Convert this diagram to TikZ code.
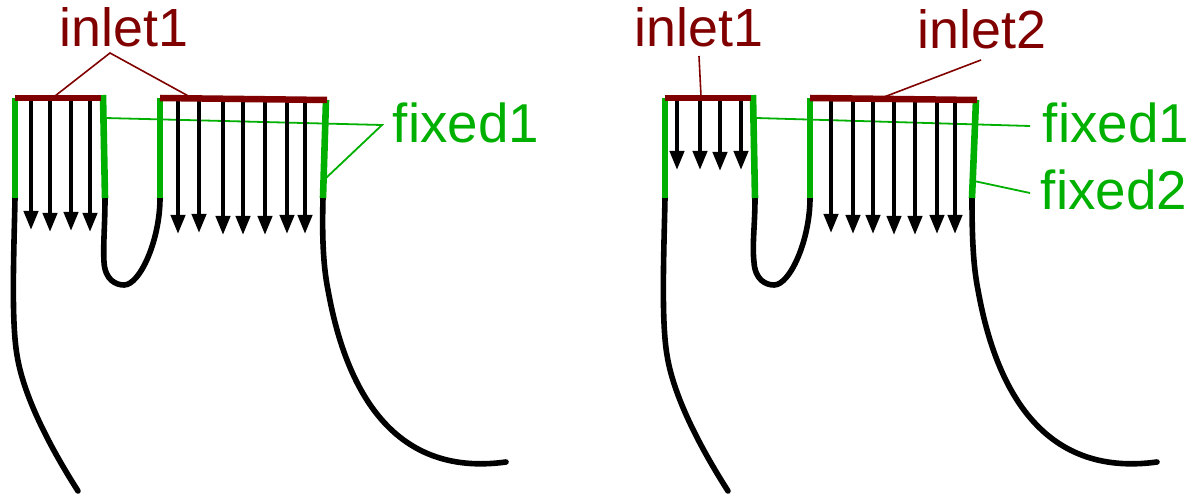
\documentclass[tikz,border=0pt]{standalone}
\usepackage{fontspec}
\setmainfont{Liberation Sans}
\usetikzlibrary{arrows.meta}
\definecolor{inletred}{RGB}{128,0,0}
\definecolor{fixgreen}{RGB}{0,176,0}
\tikzset{
  x=1bp,y=-1bp,
  wall/.style={line width=5.6bp,black,line cap=round},
  fixwall/.style={line width=6.6bp,fixgreen},
  inletbar/.style={line width=6.5bp,inletred},
  flow/.style={line width=4bp,black,-{Triangle[width=14bp,length=19bp]}},
  redlead/.style={line width=1.6bp,inletred},
  greenlead/.style={line width=1.8bp,fixgreen},
  redlabel/.style={text=inletred,font=\fontsize{54}{54}\selectfont,inner sep=0pt},
  greenlabel/.style={text=fixgreen,font=\fontsize{55}{55}\selectfont,inner sep=0pt},
}
\begin{document}
\begin{tikzpicture}
\useasboundingbox (0,0) rectangle (1200,499);
% labels
\node[redlabel] (i1) at (124,27) {inlet1};
\node[redlabel] (i1b) at (699,27) {inlet1};
\node[redlabel] (i2b) at (982,29) {inlet2};
\node[greenlabel] (f1) at (466,123) {fixed1};
\node[greenlabel] (f1b) at (1116,123) {fixed1};
\node[greenlabel] (f2b) at (1114,190) {fixed2};
% leader ends
\coordinate (la) at (110,53);
\coordinate (la1) at (55,96);
\coordinate (la2) at (192,98);
\coordinate (lb) at (699,56);
\coordinate (lb1) at (701,96);
\coordinate (lc) at (981,60);
\coordinate (lc1) at (884,97);
\coordinate (ga) at (382,125);
\coordinate (ga1) at (105,118);
\coordinate (ga2) at (326,178);
\coordinate (gb) at (1030,126);
\coordinate (gb1) at (756,118);
\coordinate (gc) at (1030,193);
\coordinate (gc1) at (974,181);
\draw[greenlead] (ga1) -- (ga) -- (ga2);
\draw[greenlead] (gb1) -- (gb);
\draw[greenlead] (gc1) -- (gc);
% left figure walls
\coordinate (a1) at (15,198);
\coordinate (a2) at (105,198);
\coordinate (a3) at (160,198);
\coordinate (a4) at (323,198);
\draw[wall] (a1) .. controls (14,250) and (11,320) .. (17,355) .. controls (24,400) and (55,455) .. (78,491);
\draw[wall] (a2) .. controls (105,225) and (103,245) .. (104,262) .. controls (105,280) and (116,285) .. (124,285) .. controls (140,285) and (160,240) .. (a3);
\draw[wall] (a4) .. controls (322,235) and (323,265) .. (328,290) .. controls (345,385) and (390,478) .. (506,462);
% right figure walls
\coordinate (b1) at (665,198);
\coordinate (b2) at (755,198);
\coordinate (b3) at (810,198);
\coordinate (b4) at (972,198);
\draw[wall] (b1) .. controls (664,250) and (661,320) .. (667,355) .. controls (674,400) and (705,455) .. (728,491);
\draw[wall] (b2) .. controls (755,225) and (752,245) .. (754,262) .. controls (755,280) and (766,285) .. (774,285) .. controls (790,285) and (810,240) .. (b3);
\draw[wall] (b4) .. controls (972,235) and (973,265) .. (978,290) .. controls (995,385) and (1040,478) .. (1157,462);
% arrows
\foreach \x/\y in {31/230,50/232,71/231,90/232,178/234,199/233,223/235,243/235,265/235,287/234,305/234,
  677/170,700/170,720/171,741/170,831/233,853/234,873/234,894/235,915/235,937/234,955/234}
  \draw[flow] (\x,99) -- (\x,\y);
% fixed walls
\draw[fixwall] (15,98) -- (a1);
\draw[fixwall] (103,95) -- (a2);
\draw[fixwall] (160,98) -- (a3);
\draw[fixwall] (326,100) -- (a4);
\draw[fixwall] (665,98) -- (b1);
\draw[fixwall] (753,95) -- (b2);
\draw[fixwall] (810,98) -- (b3);
\draw[fixwall] (976,100) -- (b4);
% inlets
\draw[inletbar] (15,98) -- (101,98);
\draw[inletbar] (160,98) -- (327,100);
\draw[inletbar] (665,98) -- (751,98);
\draw[inletbar] (810,98) -- (977,100);
% red leaders
\draw[redlead] (la1) -- (la) -- (la2);
\draw[redlead] (lb) -- (lb1);
\draw[redlead] (lc) -- (lc1);
\end{tikzpicture}
\end{document}
